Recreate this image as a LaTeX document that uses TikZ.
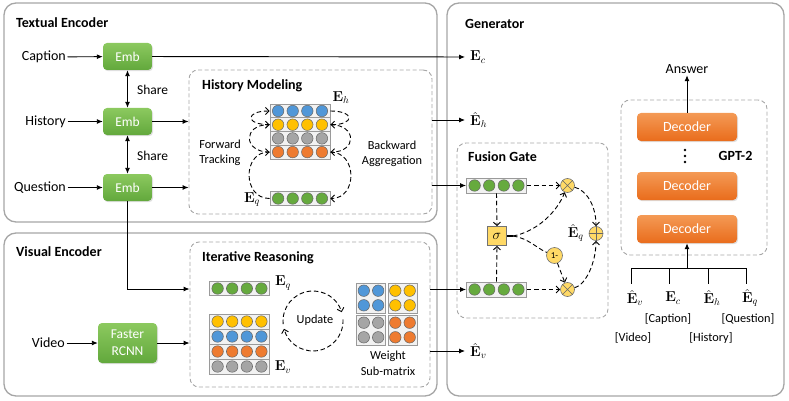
\documentclass[tikz,border=0pt]{standalone}
\usepackage[no-math]{fontspec}
\setmainfont{Carlito}
\usepackage{amsmath}
\usetikzlibrary{arrows.meta,calc,shadows}
\newcommand\fbig{\fontsize{14}{16}\selectfont}
\newcommand\fmid{\fontsize{13.5}{17}\selectfont}
\newcommand\fsmall{\fontsize{12.3}{15}\selectfont}
\definecolor{cblue}{HTML}{5097D8}
\definecolor{cyellow}{HTML}{FFC000}
\definecolor{cgray}{HTML}{A5A5A5}
\definecolor{corange}{HTML}{EE7B30}
\definecolor{cgreen}{HTML}{66AA3E}
\definecolor{rowfill}{HTML}{F2F2F2}
\definecolor{rowdraw}{HTML}{9A9A9A}
\definecolor{embtop}{HTML}{8CC95F}
\definecolor{embbot}{HTML}{62A83C}
\definecolor{dectop}{HTML}{F49A55}
\definecolor{decbot}{HTML}{E96C1C}
\definecolor{gatefill}{HTML}{FFD966}
\definecolor{boxgray}{HTML}{A6A6A6}
\tikzset{
  outerbox/.style={draw=boxgray, line width=1.3pt, rounded corners=12pt, inner sep=0},
  innerbox/.style={draw=boxgray, line width=0.9pt, dash pattern=on 4pt off 2.5pt, rounded corners=9pt, inner sep=0},
  ttl/.style={inner sep=0, anchor=west, font=\fbig\bfseries},
  lbl/.style={inner sep=1.5pt, font=\fbig},
  slbl/.style={inner sep=1pt, font=\fsmall, align=center},
  mlbl/.style={inner xsep=5pt, inner ysep=1pt, font=\fbig, anchor=west},
  embbox/.style={rounded corners=4pt, top color=embtop, bottom color=embbot, draw=none,
     minimum width=49, minimum height=27, text=white, font=\fmid, inner sep=0,
     drop shadow={opacity=0.25, shadow xshift=1pt, shadow yshift=-1.2pt}},
  decbox/.style={rounded corners=4pt, top color=dectop, bottom color=decbot, draw=none,
     minimum width=100, minimum height=28, text=white, font=\fbig, inner sep=0,
     drop shadow={opacity=0.25, shadow xshift=1pt, shadow yshift=-1.2pt}},
  rowbox/.style={draw=rowdraw, fill=rowfill, line width=0.9pt, minimum width=60, inner sep=0},
  dot/.style={circle, inner sep=0, minimum size=11.5, draw=black!60, line width=0.5pt},
  arr/.style={-{Latex[length=6pt,width=5pt]}, line width=0.9pt},
  barr/.style={{Latex[length=6pt,width=5pt]}-{Latex[length=6pt,width=5pt]}, line width=0.9pt},
  dline/.style={dash pattern=on 4.5pt off 2.8pt, line width=0.9pt},
  darr/.style={dline, -{Straight Barb[length=3.5pt,width=7pt]}},
  gate/.style={circle, draw=black!55, fill=gatefill, line width=0.6pt, inner sep=0, minimum size=14},
}
\newcommand\vrow[5]{%
  \node[rowbox, minimum height=#5] (#1) at (#2,#3) {};
  \foreach \k in {-1.5,-0.5,0.5,1.5} {\node[dot,fill=#4] at ($(#1.center)+(\k*14.6,0)$) {};}
}
\newcommand\wblock[4]{%
  \node[rowbox, minimum width=29, minimum height=30] (#1) at (#2,#3) {};
  \foreach \a/\b in {-1/-1,1/-1,-1/1,1/1} {\node[dot,fill=#4] at ($(#1.center)+(\a*7.2,\b*7.3)$) {};}
}
\begin{document}
\begin{tikzpicture}[x=1pt,y=-1pt]
\useasboundingbox (0,0) rectangle (789,401);
% containers
\node[outerbox, minimum width=433, minimum height=219] (te) at (220.5,112.5) {};
\node[outerbox, minimum width=433, minimum height=163] (ve) at (220.5,314.5) {};
\node[outerbox, minimum width=337, minimum height=393] (gen) at (615.5,199.5) {};
\node[innerbox, minimum width=243, minimum height=144] (hm) at (310.5,142) {};
\node[innerbox, minimum width=240, minimum height=145] (ir) at (310,314.5) {};
\node[innerbox, minimum width=151, minimum height=175] (fg) at (532.5,230.5) {};
\node[innerbox, minimum width=146, minimum height=155] (gpt) at (694,177.5) {};
% titles
\node[ttl] (tte) at (16,23) {Textual Encoder};
\node[ttl] (tve) at (16,252) {Visual Encoder};
\node[ttl] (tgen) at (465,24) {Generator};
\node[ttl] (thm) at (202,86) {History Modeling};
\node[ttl] (tir) at (202,258) {Iterative Reasoning};
\node[ttl] (tfg) at (468,157) {Fusion Gate};
\node[inner sep=0, font=\fbig\bfseries] (tgpt) at (735.5,156) {GPT-2};
% textual encoder
\node[embbox] (embc) at (127.5,56.5) {Emb};
\node[embbox] (embh) at (127.5,121.5) {Emb};
\node[embbox] (embq) at (127.5,187.5) {Emb};
\node[lbl, anchor=east] (cap) at (67.5,57) {Caption};
\node[lbl, anchor=east] (his) at (67.5,121.5) {History};
\node[lbl, anchor=east] (que) at (67.5,187.5) {Question};
\draw[arr] (cap) -- (embc);
\draw[arr] (his) -- (embh);
\draw[arr] (que) -- (embq);
\draw[barr] (embc) -- (embh);
\draw[barr] (embh) -- (embq);
\node[inner sep=0, anchor=west, font=\fmid] (sh1) at (137,90) {Share};
\node[inner sep=0, anchor=west, font=\fmid] (sh2) at (137,155.5) {Share};
\node[mlbl] (ec) at (465,57) {$\mathbf{E}_c$};
\draw[arr] (embc) -- (ec);
\draw[arr] (embh) -- (embh -| hm.west);
\draw[arr] (embq) -- (embq -| hm.west);
% history modeling
\vrow{hb}{300}{111}{cblue}{13.7}
\vrow{hy}{300}{124.7}{cyellow}{13.7}
\vrow{hg}{300}{138.4}{cgray}{13.7}
\vrow{ho}{300}{152.1}{corange}{13.7}
\vrow{hq}{300}{198.5}{cgreen}{13.7}
\node[inner sep=0, font=\fbig] (lbeh) at (341,97.5) {$\mathbf{E}_h$};
\node[inner sep=0, font=\fbig] (lbeq) at (252,199.5) {$\mathbf{E}_q$};
\draw[darr] (hy.west) to[out=180,in=180,looseness=4.6] (hb.west);
\draw[darr] (ho.west) to[out=180,in=180,looseness=2.5] (hy.west);
\draw[darr] (hq.west) to[out=180,in=180,looseness=1.5] (ho.west);
\draw[darr] (hb.east) to[out=0,in=0,looseness=4.6] (hy.east);
\draw[darr] (hy.east) to[out=0,in=0,looseness=2.5] (ho.east);
\draw[darr] (ho.east) to[out=0,in=0,looseness=1.5] (hq.east);
\node[slbl] (fwd) at (220,152.5) {Forward\\Tracking};
\node[slbl] (bwd) at (392,153.5) {Backward\\Aggregation};
% visual encoder
\node[lbl, anchor=east] (vid) at (66.5,343) {Video};
\node[embbox, minimum width=59, minimum height=40, align=center, font=\fontsize{13.5}{17}\selectfont] (frc) at (127.5,343) {Faster\\RCNN};
\draw[arr] (vid) -- (frc);
\coordinate (irin1) at (ir.west |- 0,289);
\coordinate (irin2) at (ir.west |- frc);
\draw[arr] (embq.south) |- (irin1);
\draw[arr] (frc) -- (irin2);
% iterative reasoning
\vrow{iq}{239.5}{288.5}{cgreen}{14.5}
\vrow{iy}{239.5}{321.5}{cyellow}{15}
\vrow{ib}{239.5}{336.5}{cblue}{15}
\vrow{io}{239.5}{351.5}{corange}{15}
\vrow{ig}{239.5}{366.5}{cgray}{15}
\node[inner sep=0, font=\fbig] (lieq) at (283,283) {$\mathbf{E}_q$};
\node[inner sep=0, font=\fbig] (liev) at (283,367) {$\mathbf{E}_v$};
\coordinate (uc) at (313,321);
\node[slbl] (upd) at (315,320) {Update};
\draw[darr] (uc) ++(-186:30) arc[start angle=-186, end angle=-17, radius=30];
\draw[darr] (uc) ++(-3:30) arc[start angle=-3, end angle=165, radius=30];
\wblock{w1}{371}{298}{cblue}
\wblock{w2}{402.5}{298}{cyellow}
\wblock{w3}{371}{330}{cgray}
\wblock{w4}{402.5}{330}{corange}
\node[slbl, font=\fontsize{12.3}{16}\selectfont] (wlb) at (388,363) {Weight\\Sub-matrix};
% outputs to generator
\node[mlbl] (ehh) at (465,120) {$\hat{\mathbf{E}}_h$};
\node[mlbl] (evh) at (465,351) {$\hat{\mathbf{E}}_v$};
\draw[arr] (hm.east |- ehh) -- (ehh);
\draw[arr] (ir.east |- evh) -- (evh);
% fusion gate
\vrow{ft}{496.5}{185.5}{cgreen}{15}
\vrow{fb}{496.5}{289.5}{cgreen}{15}
\draw[arr] (hm.east |- ft) -- (ft);
\draw[arr] (ir.east |- fb) -- (fb);
\node[draw=black!55, fill=gatefill, line width=0.6pt, minimum size=19, inner sep=0, font=\fbig] (sig) at (497,236) {$\sigma$};
\node[gate] (ot1) at (567.5,185.5) {};
\node[gate] (ot2) at (567.5,289.5) {};
\node[gate] (op) at (596,233.5) {};
\node[gate, minimum size=16, font=\fontsize{9}{10}\selectfont] (om) at (554.5,255.5) {1-};
\draw[line width=0.6pt, black!60] (ot1.north east) -- (ot1.south west) (ot1.north west) -- (ot1.south east);
\draw[line width=0.6pt, black!60] (ot2.north east) -- (ot2.south west) (ot2.north west) -- (ot2.south east);
\draw[line width=0.6pt, black!60] (op.north) -- (op.south) (op.west) -- (op.east);
\node[inner sep=0, font=\fbig, anchor=east] (leq) at (584,233) {$\hat{\mathbf{E}}_q$};
\draw[darr] (ft) -- (ot1);
\draw[darr] (fb) -- (ot2);
\draw[darr] (ft.south) -- (sig.north);
\draw[darr] (fb.north) -- (sig.south);
\coordinate (sf) at (513,236);
\draw[line width=1.6pt] (sig.east) -- (sf);
\draw[darr] (sf) .. controls (535,232) and (556,214) .. (ot1);
\draw[dline] (sf) .. controls (528,238) and (538,249) .. (om);
\draw[darr] (om) -- (ot2);
\draw[darr] (ot1) .. controls (586,190) and (596,205) .. (op.north);
\draw[darr] (ot2) .. controls (586,285) and (596,262) .. (op.south);
% GPT-2
\node[decbox] (dec1) at (687,127) {Decoder};
\node[decbox] (dec2) at (687,186) {Decoder};
\node[decbox] (dec3) at (687,229) {Decoder};
\fill (685,150) circle[radius=1.4] (685,156) circle[radius=1.4] (685,162) circle[radius=1.4];
\node[lbl] (ans) at (687,69) {Answer};
\draw[arr] (dec1) -- (ans);
\coordinate (bus) at (687,268);
\draw[arr, line width=1pt] (bus) -- (dec3.south);
\draw[line width=1pt] (631,268) -- (746,268);
\node[inner sep=2.5pt, font=\fbig] (gv) at (635,298) {$\hat{\mathbf{E}}_v$};
\node[inner sep=2.5pt, font=\fbig] (gc) at (673,298) {$\mathbf{E}_c$};
\node[inner sep=2.5pt, font=\fbig] (gh) at (712,298) {$\hat{\mathbf{E}}_h$};
\node[inner sep=2.5pt, font=\fbig] (gq) at (750,298) {$\hat{\mathbf{E}}_q$};
\draw[line width=1pt] (631,268) -- (631,284);
\draw[line width=1pt] (669,268) -- (669,284);
\draw[line width=1pt] (708,268) -- (708,284);
\draw[line width=1pt] (746,268) -- (746,284);
\node[slbl] (bc) at (668,319) {[Caption]};
\node[slbl] (bq) at (748,319) {[Question]};
\node[slbl] (bv) at (633,338) {[Video]};
\node[slbl] (bh) at (711,338) {[History]};
\end{tikzpicture}
\end{document}
